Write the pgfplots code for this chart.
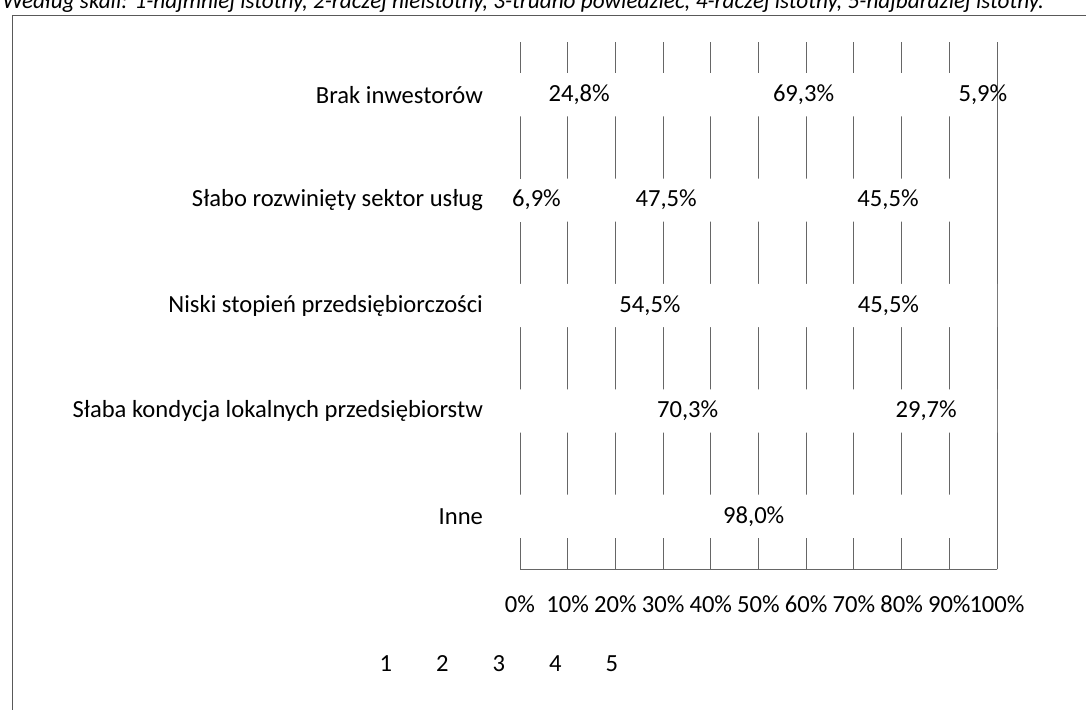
\documentclass[border=0pt]{standalone}
\usepackage{pgfplots}
\pgfplotsset{compat=1.18}
\usepackage{pgfplotstable}
\usepackage{fontspec}
\setmainfont{Carlito}

% y: 0 Brak inwestorow, 1 Slabo rozwiniety..., 2 Niski stopien..., 3 Slaba kondycja..., 4 Inne
\pgfplotstableread{
y v
0 0
1 0
2 0
3 0
4 0
}\sone
\pgfplotstableread{
y v
0 0
1 6.9
2 0
3 0
4 0
}\stwo
\pgfplotstableread{
y v
0 24.8
1 47.5
2 54.5
3 70.3
4 98.0
}\sthree
\pgfplotstableread{
y v
0 69.3
1 45.5
2 45.5
3 29.7
4 0
}\sfour
\pgfplotstableread{
y v
0 5.9
1 0
2 0
3 0
4 0
}\sfive

\begin{document}
\begin{tikzpicture}
\useasboundingbox (0,0) rectangle (543pt,-354.5pt);
% cut-off caption line of the scan
\node[anchor=base west, inner sep=0pt, font=\fontsize{11.6}{13}\selectfont\itshape] at (1pt,-4pt)
  {Według skali: 1-najmniej istotny, 2-raczej nieistotny, 3-trudno powiedzieć, 4-raczej istotny, 5-najbardziej istotny.};
\draw[black!65, line width=0.5pt] (6pt,-360pt) -- (6pt,-7.5pt) -- (545pt,-7.5pt);

\begin{axis}[
    at={(260pt,-21pt)}, anchor=north west,
    scale only axis, width=238.5pt, height=263.5pt,
    xbar stacked, bar width=0.41,
    xmin=0, xmax=100, ymin=-0.5, ymax=4.5,
    y dir=reverse,
    axis line style={draw=none},
    major tick length=0pt,
    xtick={0,10,...,100},
    xticklabels={0\%,10\%,20\%,30\%,40\%,50\%,60\%,70\%,80\%,90\%,100\%},
    ytick={0,...,4},
    yticklabels={Brak inwestorów, Słabo rozwinięty sektor usług, Niski stopień przedsiębiorczości, Słaba kondycja lokalnych przedsiębiorstw, Inne},
    tick label style={font=\fontsize{12.3}{14}\selectfont, black},
    xticklabel style={yshift=-10pt},
    yticklabel style={xshift=-15pt},
    xmajorgrids,
    grid style={black!60, line width=0.5pt},
    point meta=explicit,
    nodes near coords={\pgfmathfloatifflags{\pgfplotspointmeta}{0}{}{\pgfmathprintnumber{\pgfplotspointmeta}\%}},
    nodes near coords style={/pgf/number format/fixed, /pgf/number format/fixed zerofill,
      /pgf/number format/precision=1, /pgf/number format/use comma,
      /pgf/number format/assume math mode=true},
    % with anchor=center the labels already sit in the middle of each segment
    every node near coord/.append style={anchor=center, font=\fontsize{12.3}{14}\selectfont, black},
    legend columns=-1,
    legend image code/.code={},
    legend style={at={(-0.316,-0.182)}, anchor=west, draw=none, fill=none,
      font=\fontsize{12.3}{14}\selectfont,
      /tikz/every even column/.append style={column sep=18pt}},
]
\addplot[fill=white, draw=none] table[x=v, y=y, meta=v] {\sone};
\addplot[fill=white, draw=none] table[x=v, y=y, meta=v] {\stwo};
\addplot[fill=white, draw=none] table[x=v, y=y, meta=v] {\sthree};
\addplot[fill=white, draw=none] table[x=v, y=y, meta=v] {\sfour};
\addplot[fill=white, draw=none] table[x=v, y=y, meta=v] {\sfive};
\legend{1,2,3,4,5}
\draw[black!60, line width=0.5pt] (axis cs:0,-0.5) -- (axis cs:0,4.5) -- (axis cs:100,4.5) -- (axis cs:100,-0.5);
\end{axis}
\end{tikzpicture}
\end{document}
